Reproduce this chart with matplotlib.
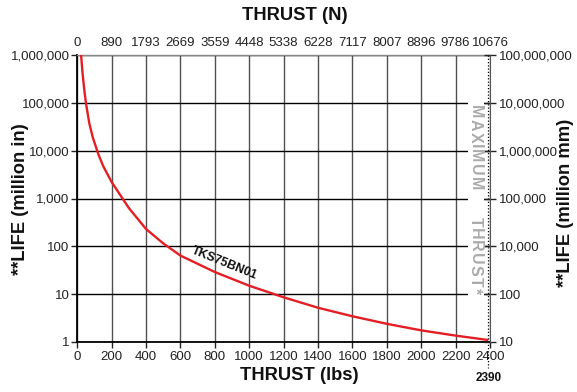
import matplotlib
matplotlib.use('Agg')
import matplotlib.pyplot as plt
from matplotlib.ticker import NullLocator
from matplotlib.font_manager import FontProperties
from matplotlib.patches import Rectangle

# ---------------- data ----------------
thrust_lbs = [22, 30, 40, 50, 70, 90, 122, 150, 200, 300, 400, 500, 600,
              800, 1000, 1200, 1400, 1600, 1800, 2000, 2200, 2390]
life_million_in = [1.0e6, 4.4e5, 1.95e5, 1.0e5, 3.7e4, 1.9e4, 8.5e3, 4.8e3,
                   2.2e3, 6.3e2, 2.3e2, 1.15e2, 64, 29, 15, 8.6, 5.2, 3.45,
                   2.4, 1.75, 1.36, 1.1]
series_name = "TKS75BN01"
max_thrust_lbs = 2390

lbs_ticks = [0, 200, 400, 600, 800, 1000, 1200, 1400, 1600, 1800, 2000, 2200, 2400]
newton_labels = ["0", "890", "1793", "2669", "3559", "4448", "5338", "6228",
                 "7117", "8007", "8896", "9786", "10676"]
life_in_ticks = [1, 10, 100, 1000, 10000, 100000, 1000000]
life_in_labels = ["1", "10", "100", "1,000", "10,000", "100,000", "1,000,000"]
life_mm_labels = ["10", "100", "10,000", "100,000", "1,000,000", "10,000,000", "100,000,000"]

# ---------------- style ----------------
plt.rcParams['font.family'] = ['Liberation Sans Narrow', 'Liberation Sans', 'DejaVu Sans']
TICK_FS = 9.5
TITLE_FS = 13.2
W, H = 577, 392
fig = plt.figure(figsize=(W / 100, H / 100), dpi=100)
L, R, T, B = 77.3, 490.0, 55.0, 342.0
ax = fig.add_axes([L / W, 1 - B / H, (R - L) / W, (B - T) / H])

ax.set_xlim(0, 2400)
ax.set_yscale('log')
ax.set_ylim(1, 1e6)
ax.set_xticks(lbs_ticks)
ax.set_xticklabels([str(v) for v in lbs_ticks])
ax.set_yticks(life_in_ticks)
ax.set_yticklabels(life_in_labels)
ax.yaxis.set_minor_locator(NullLocator())
ax.grid(axis='x', color='#505050', lw=1.0)
ax.grid(axis='y', color='black', lw=1.0)
ax.tick_params(axis='y', direction='out', length=4, width=1, pad=1.5,
               labelsize=TICK_FS, colors='#222222')
ax.tick_params(axis='x', direction='out', length=4, width=1, pad=2.5,
               labelsize=TICK_FS, colors='#222222')
for s in ['left', 'bottom']:
    ax.spines[s].set_color('black')
    ax.spines[s].set_linewidth(1.3)
ax.spines['top'].set_color('#888888')
ax.spines['top'].set_linewidth(1.0)
ax.spines['right'].set_visible(False)

ax.plot(thrust_lbs, life_million_in, color='#e31e24', lw=1.7, zorder=4,
        solid_capstyle='butt')

ax.text(858, 44, series_name, rotation=-22, fontsize=8.8, fontweight='bold',
        ha='center', va='center', rotation_mode='anchor', color='#111111', zorder=5)

# max thrust dotted line
ax.plot([max_thrust_lbs, max_thrust_lbs], [1, -0.09], transform=ax.get_xaxis_transform(),
        ls=(0, (1, 1.6)), color='black', lw=0.9, clip_on=False, zorder=5)
ax.text(max_thrust_lbs, -0.127, str(max_thrust_lbs), transform=ax.get_xaxis_transform(),
        ha='center', va='center', fontsize=8.5, fontweight='bold', color='#111111')

# top axis (Newtons)
axt = ax.twiny()
axt.set_xlim(0, 2400)
axt.set_xticks(lbs_ticks)
axt.set_xticklabels(newton_labels)
axt.tick_params(axis='x', length=0, pad=4.5, labelsize=TICK_FS, colors='#222222')
for s in axt.spines.values():
    s.set_visible(False)

# right axis (million mm)
axr = ax.twinx()
axr.set_yscale('log')
axr.set_ylim(1, 1e6)
axr.set_yticks(life_in_ticks)
axr.set_yticklabels(life_mm_labels)
axr.yaxis.set_minor_locator(NullLocator())
axr.tick_params(axis='y', direction='inout', length=8, width=1, pad=2.5,
                labelsize=TICK_FS, colors='#222222')
for k, s in axr.spines.items():
    s.set_visible(k == 'right')
axr.spines['right'].set_linewidth(0.8)
axr.spines['right'].set_color('#555555')

# white gap behind MAXIMUM THRUST text
fig.patches.append(Rectangle((468 / W, 1 - 300 / H), 16 / W, 205 / H,
                             transform=fig.transFigure, facecolor='white',
                             edgecolor='none', zorder=2))

# spaced vertical text, one word at a time
fp = FontProperties(family=plt.rcParams['font.family'], weight='bold', size=11.5)
renderer = fig.canvas.get_renderer()


def spaced_vertical(word, ytop, ybot, xc):
    widths = []
    for c in word:
        t = fig.text(0, 0, c, fontproperties=fp)
        widths.append(t.get_window_extent(renderer).width)
        t.remove()
    gap = (ybot - ytop - sum(widths)) / (len(word) - 1)
    y = ytop
    for c, w in zip(word, widths):
        fig.text(xc / W, 1 - (y + w / 2) / H, c, fontproperties=fp, rotation=-90,
                 ha='center', va='center', color='#ababab', zorder=3)
        y += w + gap


spaced_vertical("MAXIMUM", 105.0, 190.0, 475.0)
spaced_vertical("THRUST*", 217.0, 294.0, 475.0)

# axis titles
fig.text(295 / W, 1 - 15 / H, "THRUST (N)", ha='center', va='center',
         fontsize=TITLE_FS, fontweight='bold', color='#111111')
fig.text(299 / W, 1 - 376 / H, "THRUST (lbs)", ha='center', va='center',
         fontsize=TITLE_FS, fontweight='bold', color='#111111')
fig.text(21 / W, 1 - 199 / H, "**LIFE (million in)", ha='center', va='center',
         rotation=90, fontsize=TITLE_FS, fontweight='bold', color='#111111')
fig.text(566 / W, 1 - 203 / H, "**LIFE (million mm)", ha='center', va='center',
         rotation=90, fontsize=TITLE_FS, fontweight='bold', color='#111111')

fig.savefig('out.png', dpi=100)
